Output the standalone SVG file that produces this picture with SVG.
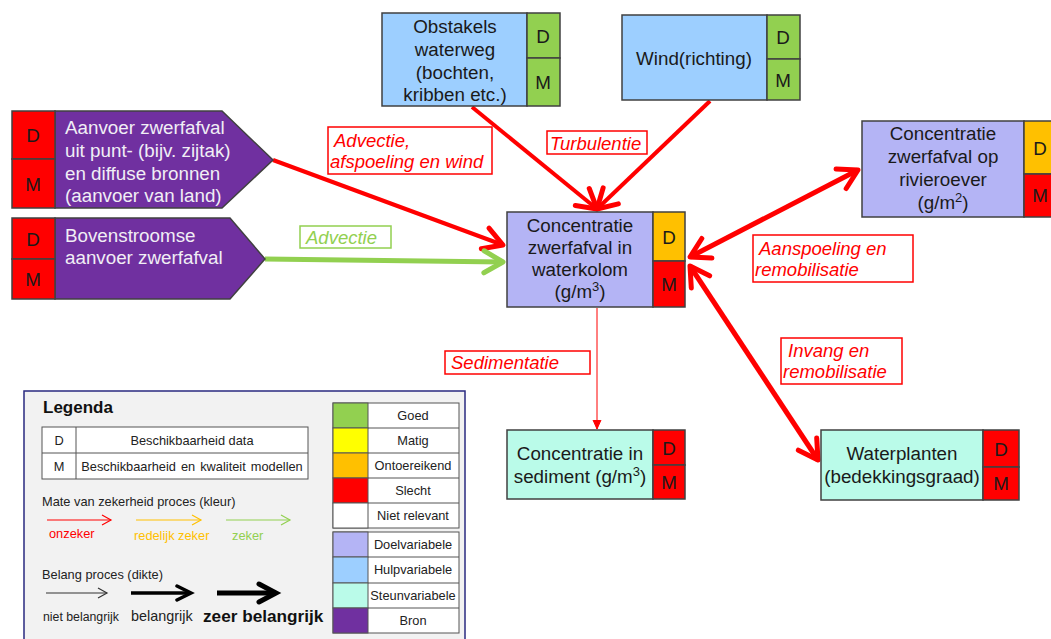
<svg xmlns="http://www.w3.org/2000/svg" width="1051" height="639" viewBox="0 0 1051 639">
<defs>
<style>
text{font-family:"Liberation Sans",Arial,sans-serif;}
.box{stroke:#404040;stroke-width:1.5;}
.doel{fill:#b4b4f5;}
.hulp{fill:#9dcfff;}
.steun{fill:#bafbe9;}
.bron{fill:#7030a0;}
.g{fill:#92d050;}
.o{fill:#ffc000;}
.r{fill:#ff0000;}
.y{fill:#ffff00;}
.w{fill:#ffffff;}
.nt{font-size:18.8px;fill:#1a1a1a;text-anchor:middle;}
.st{font-size:18.8px;fill:#f0eef5;}
.dm{font-size:18.8px;fill:#1a1a1a;text-anchor:middle;}
.lbl{font-size:18.5px;font-style:italic;fill:#ff0000;}
.lblbox{fill:#ffffff;stroke:#ff0000;stroke-width:1.5;}
.lt{font-size:12.8px;fill:#222;}
.ltc{font-size:12.8px;fill:#222;text-anchor:middle;}
.lg{stroke:#555;stroke-width:1;}
</style>
<marker id="aRed" markerUnits="userSpaceOnUse" markerWidth="32" markerHeight="32" refX="22" refY="14" orient="auto-start-reverse" viewBox="0 0 32 28">
<path d="M3,3 L22,14 L3,25" fill="none" stroke="#ff0000" stroke-width="5" stroke-linecap="round" stroke-linejoin="round"/>
</marker>
<marker id="aGreen" markerUnits="userSpaceOnUse" markerWidth="32" markerHeight="32" refX="22" refY="14" orient="auto" viewBox="0 0 32 28">
<path d="M3,3 L22,14 L3,25" fill="none" stroke="#92d050" stroke-width="5" stroke-linecap="round" stroke-linejoin="round"/>
</marker>
<marker id="aThinRed" markerUnits="userSpaceOnUse" markerWidth="12" markerHeight="12" refX="10" refY="5" orient="auto" viewBox="0 0 12 10">
<path d="M1,1 L10,5 L1,9" fill="#ff0000" stroke="#ff0000" stroke-width="1"/>
</marker>
<marker id="lRed" markerUnits="userSpaceOnUse" markerWidth="12" markerHeight="12" refX="10" refY="6" orient="auto" viewBox="0 0 12 12">
<path d="M1,1 L10,6 L1,11" fill="none" stroke="#ff0000" stroke-width="1.2"/>
</marker>
<marker id="lOrange" markerUnits="userSpaceOnUse" markerWidth="12" markerHeight="12" refX="10" refY="6" orient="auto" viewBox="0 0 12 12">
<path d="M1,1 L10,6 L1,11" fill="none" stroke="#ffc000" stroke-width="1.2"/>
</marker>
<marker id="lGreen" markerUnits="userSpaceOnUse" markerWidth="12" markerHeight="12" refX="10" refY="6" orient="auto" viewBox="0 0 12 12">
<path d="M1,1 L10,6 L1,11" fill="none" stroke="#92d050" stroke-width="1.2"/>
</marker>
<marker id="lThin" markerUnits="userSpaceOnUse" markerWidth="12" markerHeight="12" refX="10" refY="6" orient="auto" viewBox="0 0 12 12">
<path d="M1,1 L10,6 L1,11" fill="none" stroke="#333" stroke-width="1.2"/>
</marker>
<marker id="lMed" markerUnits="userSpaceOnUse" markerWidth="20" markerHeight="20" refX="16" refY="9" orient="auto" viewBox="0 0 20 18">
<path d="M2,2 L16,9 L2,16" fill="none" stroke="#000" stroke-width="3.5" stroke-linecap="round"/>
</marker>
<marker id="lThick" markerUnits="userSpaceOnUse" markerWidth="26" markerHeight="26" refX="20" refY="12" orient="auto" viewBox="0 0 26 24">
<path d="M3,3 L20,12 L3,21" fill="none" stroke="#000" stroke-width="5" stroke-linecap="round"/>
</marker>
</defs>
<rect width="1051" height="639" fill="#ffffff"/>

<!-- connectors -->
<g id="connectors" fill="none">
<line x1="273" y1="160" x2="503" y2="245" stroke="#ff0000" stroke-width="4" marker-end="url(#aRed)"/>
<line x1="265" y1="259" x2="503" y2="262" stroke="#92d050" stroke-width="5" marker-end="url(#aGreen)"/>
<line x1="472" y1="107" x2="597" y2="209" stroke="#ff0000" stroke-width="4" marker-end="url(#aRed)"/>
<line x1="710" y1="101" x2="597" y2="209" stroke="#ff0000" stroke-width="4" marker-end="url(#aRed)"/>
<line x1="690" y1="257" x2="858" y2="170" stroke="#ff0000" stroke-width="5" marker-start="url(#aRed)" marker-end="url(#aRed)"/>
<line x1="690" y1="266" x2="818" y2="460" stroke="#ff0000" stroke-width="5" marker-start="url(#aRed)" marker-end="url(#aRed)"/>
<line x1="597" y1="308" x2="597" y2="429" stroke="#ff0000" stroke-width="1" marker-end="url(#aThinRed)"/>
</g>

<!-- connector labels -->
<g id="labels">
<rect class="lblbox" x="328" y="127" width="164" height="47"/>
<text class="lbl" x="334" y="147">Advectie,</text>
<text class="lbl" x="330" y="168">afspoeling en wind</text>
<rect x="300" y="226" width="91" height="22" fill="#ffffff" stroke="#92d050" stroke-width="1.5"/>
<text class="lbl" x="306" y="244" style="fill:#92d050">Advectie</text>
<rect class="lblbox" x="547" y="131" width="100" height="23"/>
<text class="lbl" x="550" y="150">Turbulentie</text>
<rect class="lblbox" x="753" y="235" width="160" height="47"/>
<text class="lbl" x="759" y="255">Aanspoeling en</text>
<text class="lbl" x="755" y="276">remobilisatie</text>
<rect class="lblbox" x="781" y="338" width="121" height="46"/>
<text class="lbl" x="788" y="357">Invang en</text>
<text class="lbl" x="783" y="378">remobilisatie</text>
<rect class="lblbox" x="445" y="351" width="145" height="23"/>
<text class="lbl" x="451" y="369">Sedimentatie</text>
</g>

<!-- nodes -->
<g id="node-obstakels">
<rect class="box hulp" x="382" y="13" width="145" height="93"/>
<rect class="box g" x="527" y="13" width="33" height="45"/>
<rect class="box g" x="527" y="58" width="33" height="48"/>
<text class="nt" x="455" y="33">Obstakels</text>
<text class="nt" x="455" y="56">waterweg</text>
<text class="nt" x="455" y="79">(bochten,</text>
<text class="nt" x="455" y="101">kribben etc.)</text>
<text class="dm" x="543" y="43">D</text>
<text class="dm" x="543" y="89">M</text>
</g>

<g id="node-wind">
<rect class="box hulp" x="622" y="15" width="145" height="85"/>
<rect class="box g" x="767" y="15" width="33" height="44"/>
<rect class="box g" x="767" y="59" width="33" height="41"/>
<text class="nt" x="694" y="65">Wind(richting)</text>
<text class="dm" x="783" y="44">D</text>
<text class="dm" x="783" y="87">M</text>
</g>

<g id="node-waterkolom">
<rect class="box doel" x="507" y="212" width="146" height="95"/>
<rect class="box o" x="653" y="212" width="32" height="49"/>
<rect class="box r" x="653" y="261" width="32" height="46"/>
<text class="nt" x="580" y="232">Concentratie</text>
<text class="nt" x="580" y="254">zwerfafval in</text>
<text class="nt" x="580" y="276">waterkolom</text>
<text class="nt" x="580" y="298">(g/m<tspan dy="-7" font-size="13">3</tspan><tspan dy="7">)</tspan></text>
<text class="dm" x="669" y="244">D</text>
<text class="dm" x="669" y="291">M</text>
</g>

<g id="node-rivieroever">
<rect class="box doel" x="862" y="121" width="162" height="96"/>
<rect class="box o" x="1024" y="121" width="32" height="53"/>
<rect class="box r" x="1024" y="174" width="32" height="43"/>
<text class="nt" x="943" y="140">Concentratie</text>
<text class="nt" x="943" y="163">zwerfafval op</text>
<text class="nt" x="943" y="186">rivieroever</text>
<text class="nt" x="943" y="209">(g/m<tspan dy="-7" font-size="13">2</tspan><tspan dy="7">)</tspan></text>
<text class="dm" x="1040" y="155">D</text>
<text class="dm" x="1040" y="202">M</text>
</g>

<g id="node-sediment">
<rect class="box steun" x="507" y="430" width="146" height="69"/>
<rect class="box r" x="653" y="430" width="32" height="35"/>
<rect class="box r" x="653" y="465" width="32" height="34"/>
<text class="nt" x="580" y="460">Concentratie in</text>
<text class="nt" x="580" y="483">sediment (g/m<tspan dy="-7" font-size="13">3</tspan><tspan dy="7">)</tspan></text>
<text class="dm" x="669" y="455">D</text>
<text class="dm" x="669" y="489">M</text>
</g>

<g id="node-waterplanten">
<rect class="box steun" x="821" y="430" width="162" height="70"/>
<rect class="box r" x="983" y="430" width="36" height="37"/>
<rect class="box r" x="983" y="467" width="36" height="33"/>
<text class="nt" x="902" y="460">Waterplanten</text>
<text class="nt" x="902" y="483">(bedekkingsgraad)</text>
<text class="dm" x="1001" y="456">D</text>
<text class="dm" x="1001" y="490">M</text>
</g>

<g id="node-bron-punt">
<path class="box bron" d="M55,111 L222,111 L273,160 L222,208 L55,208 Z"/>
<rect class="box r" x="12" y="111" width="43" height="48"/>
<rect class="box r" x="12" y="159" width="43" height="49"/>
<text class="st" x="65" y="134">Aanvoer zwerfafval</text>
<text class="st" x="65" y="157">uit punt- (bijv. zijtak)</text>
<text class="st" x="65" y="180">en diffuse bronnen</text>
<text class="st" x="65" y="202">(aanvoer van land)</text>
<text class="dm" x="33" y="142">D</text>
<text class="dm" x="33" y="191">M</text>
</g>

<g id="node-bron-boven">
<path class="box bron" d="M55,218 L230,218 L265,259 L230,299 L55,299 Z"/>
<rect class="box r" x="12" y="218" width="43" height="41"/>
<rect class="box r" x="12" y="259" width="43" height="40"/>
<text class="st" x="65" y="242">Bovenstroomse</text>
<text class="st" x="65" y="264">aanvoer zwerfafval</text>
<text class="dm" x="33" y="246">D</text>
<text class="dm" x="33" y="286">M</text>
</g>

<!-- legend -->
<g id="legend">
<rect x="24" y="391" width="441" height="260" fill="#f2f2f2" stroke="#2a2a80" stroke-width="1.5"/>
<text x="43" y="413" font-size="17" font-weight="bold" fill="#111">Legenda</text>
<rect x="42" y="427" width="266" height="52" fill="#ffffff" stroke="#555" stroke-width="1"/>
<line class="lg" x1="42" y1="453" x2="308" y2="453"/>
<line class="lg" x1="76" y1="427" x2="76" y2="479"/>
<text class="ltc" x="59" y="445">D</text>
<text class="ltc" x="192" y="445">Beschikbaarheid data</text>
<text class="ltc" x="59" y="471">M</text>
<text class="ltc" x="192" y="471" style="word-spacing:1.5px">Beschikbaarheid en kwaliteit modellen</text>
<text class="lt" x="42" y="506">Mate van zekerheid proces (kleur)</text>
<line x1="47" y1="520" x2="111" y2="520" stroke="#ff0000" stroke-width="1.2" marker-end="url(#lRed)"/>
<line x1="136" y1="520" x2="201" y2="520" stroke="#ffc000" stroke-width="1.2" marker-end="url(#lOrange)"/>
<line x1="226" y1="520" x2="290" y2="520" stroke="#92d050" stroke-width="1.2" marker-end="url(#lGreen)"/>
<text class="lt" x="49" y="538" style="fill:#ff0000">onzeker</text>
<text class="lt" x="134" y="540" style="fill:#ffc000">redelijk  zeker</text>
<text class="lt" x="232" y="540" style="fill:#92d050">zeker</text>
<text class="lt" x="42" y="579">Belang proces (dikte)</text>
<line x1="46" y1="593" x2="107" y2="593" stroke="#333" stroke-width="1.2" marker-end="url(#lThin)"/>
<line x1="131" y1="593" x2="191" y2="593" stroke="#000" stroke-width="3.5" marker-end="url(#lMed)"/>
<line x1="217" y1="593" x2="276" y2="593" stroke="#000" stroke-width="5" marker-end="url(#lThick)"/>
<text x="43" y="621" font-size="12.3" fill="#222">niet belangrijk</text>
<text x="131" y="621" font-size="14.4" fill="#222">belangrijk</text>
<text x="203" y="622" font-size="17.2" font-weight="bold" fill="#111">zeer belangrijk</text>

<rect x="333" y="403" width="126" height="125" fill="#ffffff" stroke="#555" stroke-width="1"/>
<rect class="g" x="333" y="403" width="35" height="25" stroke="#555" stroke-width="1"/>
<rect class="y" x="333" y="428" width="35" height="25" stroke="#555" stroke-width="1"/>
<rect class="o" x="333" y="453" width="35" height="25" stroke="#555" stroke-width="1"/>
<rect class="r" x="333" y="478" width="35" height="25" stroke="#555" stroke-width="1"/>
<rect class="w" x="333" y="503" width="35" height="25" stroke="#555" stroke-width="1"/>
<line class="lg" x1="368" y1="428" x2="459" y2="428"/>
<line class="lg" x1="368" y1="453" x2="459" y2="453"/>
<line class="lg" x1="368" y1="478" x2="459" y2="478"/>
<line class="lg" x1="368" y1="503" x2="459" y2="503"/>
<text class="ltc" x="413" y="420">Goed</text>
<text class="ltc" x="413" y="445">Matig</text>
<text class="ltc" x="413" y="470">Ontoereikend</text>
<text class="ltc" x="413" y="495">Slecht</text>
<text class="ltc" x="413" y="520">Niet relevant</text>

<rect x="333" y="532" width="126" height="101" fill="#ffffff" stroke="#555" stroke-width="1"/>
<rect class="doel" x="333" y="532" width="35" height="25" stroke="#555" stroke-width="1"/>
<rect class="hulp" x="333" y="557" width="35" height="26" stroke="#555" stroke-width="1"/>
<rect class="steun" x="333" y="583" width="35" height="25" stroke="#555" stroke-width="1"/>
<rect class="bron" x="333" y="608" width="35" height="25" stroke="#555" stroke-width="1"/>
<line class="lg" x1="368" y1="557" x2="459" y2="557"/>
<line class="lg" x1="368" y1="583" x2="459" y2="583"/>
<line class="lg" x1="368" y1="608" x2="459" y2="608"/>
<text class="ltc" x="413" y="549">Doelvariabele</text>
<text class="ltc" x="413" y="574">Hulpvariabele</text>
<text class="ltc" x="413" y="600">Steunvariabele</text>
<text class="ltc" x="413" y="625">Bron</text>
</g>
</svg>
